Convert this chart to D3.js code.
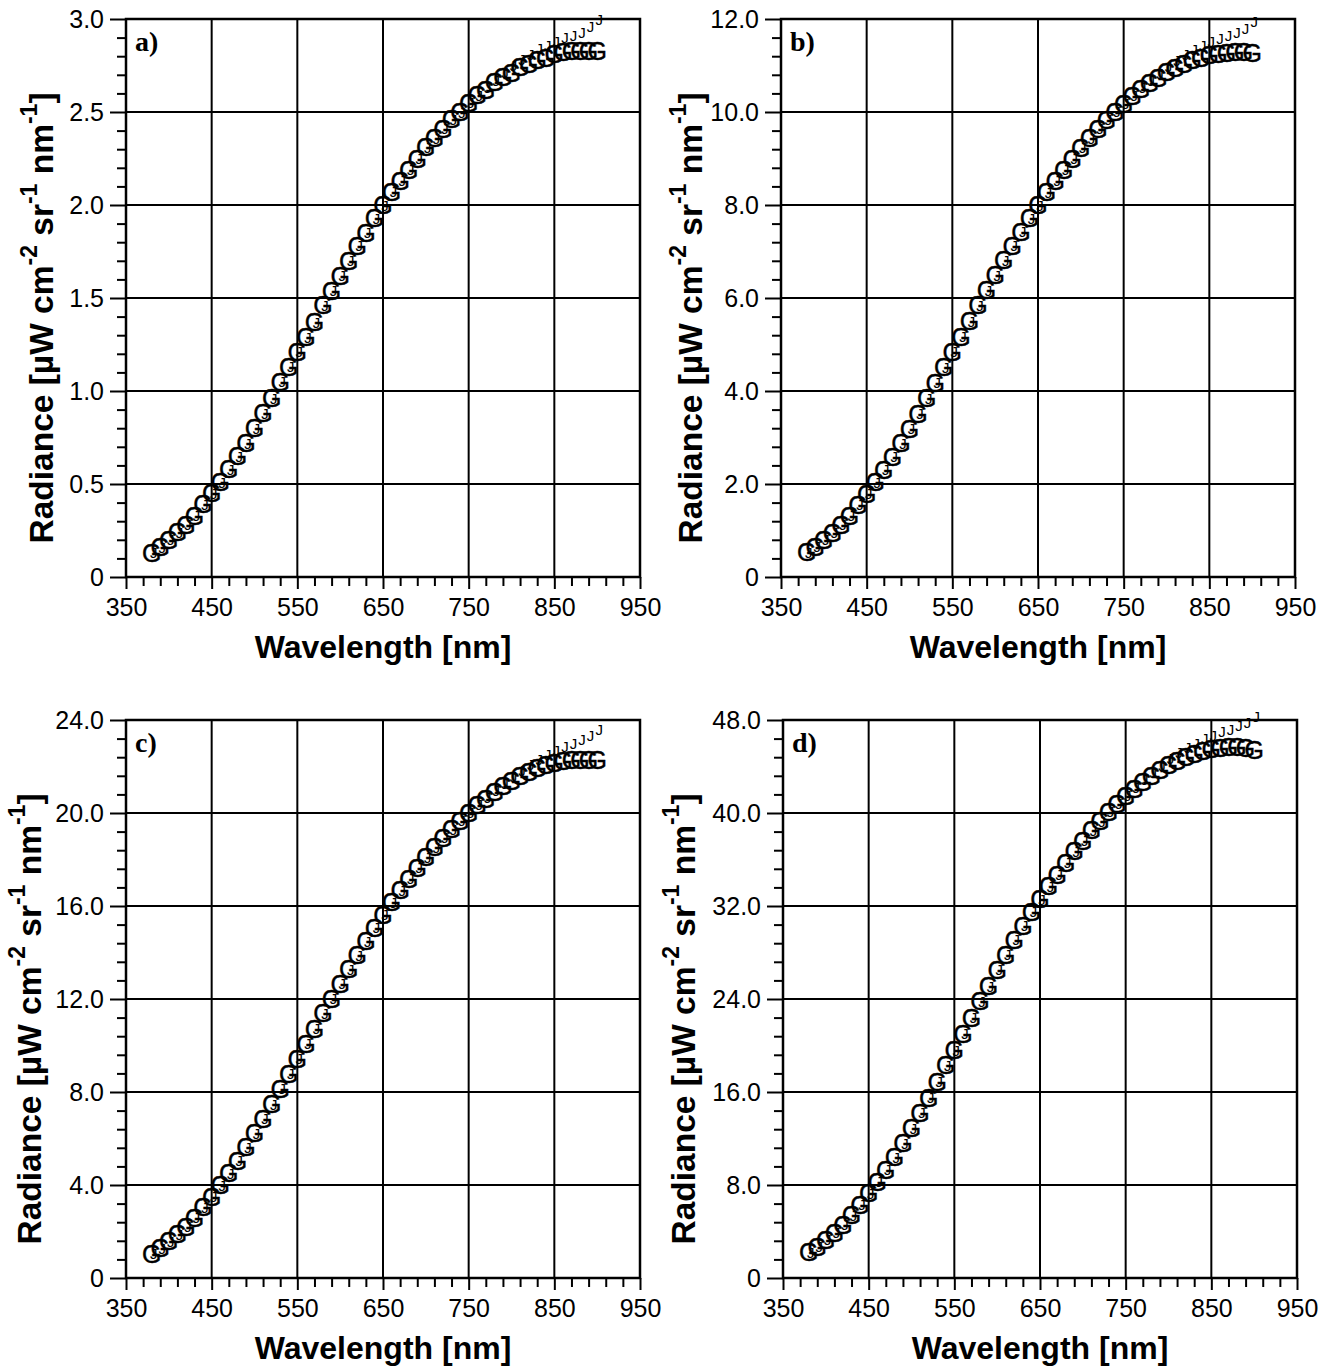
<!DOCTYPE html>
<html><head><meta charset="utf-8">
<script src="https://cdn.jsdelivr.net/npm/d3@7"></script>
<style>body{margin:0;background:#fff}svg{display:block}</style>
</head><body>
<svg id="chart" width="1330" height="1367"></svg>
<script>
// ---------- DATA ----------
const wavelengths = [380,390,400,410,420,430,440,450,460,470,480,490,500,510,520,530,540,550,560,570,580,590,600,610,620,630,640,650,660,670,680,690,700,710,720,730,740,750,760,770,780,790,800,810,820,830,840,850,860,870,880,890,900];
const radianceA = [0.13,0.16,0.20,0.24,0.28,0.33,0.39,0.45,0.51,0.58,0.65,0.72,0.80,0.88,0.96,1.05,1.13,1.21,1.29,1.37,1.46,1.54,1.62,1.70,1.78,1.85,1.93,2.00,2.07,2.13,2.19,2.25,2.31,2.36,2.41,2.46,2.50,2.55,2.59,2.62,2.66,2.69,2.71,2.74,2.76,2.78,2.79,2.81,2.82,2.83,2.83,2.83,2.83];
const radianceB = [0.53,0.65,0.80,0.95,1.12,1.32,1.55,1.79,2.04,2.31,2.59,2.88,3.19,3.51,3.84,4.18,4.51,4.84,5.17,5.50,5.84,6.17,6.49,6.81,7.12,7.42,7.72,8.00,8.27,8.52,8.76,9.00,9.23,9.44,9.64,9.83,10.01,10.18,10.34,10.49,10.62,10.74,10.85,10.95,11.04,11.11,11.17,11.22,11.25,11.27,11.28,11.28,11.27];
const radianceC = [1.05,1.28,1.57,1.88,2.21,2.59,3.04,3.50,3.98,4.50,5.05,5.62,6.22,6.84,7.48,8.13,8.78,9.43,10.08,10.73,11.38,12.02,12.66,13.28,13.89,14.48,15.06,15.62,16.16,16.68,17.17,17.64,18.09,18.52,18.93,19.31,19.67,20.01,20.33,20.62,20.90,21.15,21.38,21.58,21.76,21.92,22.05,22.15,22.23,22.28,22.30,22.30,22.28];
const radianceD = [2.2,2.7,3.3,3.9,4.6,5.4,6.3,7.3,8.3,9.3,10.4,11.6,12.9,14.2,15.5,16.9,18.3,19.6,21.0,22.4,23.8,25.1,26.5,27.8,29.1,30.3,31.5,32.6,33.7,34.7,35.7,36.7,37.6,38.5,39.3,40.1,40.8,41.5,42.1,42.7,43.2,43.7,44.1,44.5,44.8,45.1,45.3,45.5,45.6,45.7,45.7,45.6,45.4];

// second series ("J" markers), diverging upward at the long-wavelength end
const jWavelengths = [380,390,400,410,420,430,440,450,460,470,480,490,500,510,520,530,540,550,560,570,580,590,600,610,620,630,640,650,660,670,680,690,700,710,720,730,740,750,760,770,780,790,800,810,820,830,840,850,860,870,880,890,900];
const jA = [0.13,0.16,0.20,0.24,0.28,0.33,0.39,0.45,0.51,0.58,0.65,0.72,0.80,0.88,0.96,1.05,1.13,1.21,1.29,1.37,1.46,1.54,1.62,1.70,1.78,1.85,1.93,2.00,2.07,2.13,2.19,2.25,2.31,2.36,2.41,2.46,2.50,2.55,2.59,2.63,2.67,2.71,2.75,2.78,2.81,2.84,2.86,2.88,2.90,2.91,2.93,2.96,3.00];
const jB = [0.53,0.65,0.80,0.95,1.12,1.32,1.55,1.79,2.04,2.31,2.59,2.88,3.19,3.51,3.84,4.18,4.51,4.84,5.17,5.50,5.84,6.17,6.49,6.81,7.12,7.42,7.72,8.00,8.27,8.52,8.76,9.00,9.23,9.44,9.64,9.83,10.01,10.18,10.36,10.52,10.68,10.83,10.98,11.11,11.23,11.34,11.43,11.51,11.58,11.64,11.71,11.80,11.94];
const jC = [1.05,1.28,1.57,1.88,2.21,2.59,3.04,3.50,3.98,4.50,5.05,5.62,6.22,6.84,7.48,8.13,8.78,9.43,10.08,10.73,11.38,12.02,12.66,13.28,13.89,14.48,15.06,15.62,16.16,16.68,17.17,17.64,18.09,18.52,18.93,19.31,19.67,20.01,20.35,20.67,20.98,21.27,21.55,21.82,22.07,22.30,22.50,22.68,22.84,22.99,23.14,23.32,23.60];
const jD = [2.2,2.7,3.3,3.9,4.6,5.4,6.3,7.3,8.3,9.3,10.4,11.6,12.9,14.2,15.5,16.9,18.3,19.6,21.0,22.4,23.8,25.1,26.5,27.8,29.1,30.3,31.5,32.6,33.7,34.7,35.7,36.7,37.6,38.5,39.3,40.1,40.8,41.5,42.2,42.9,43.5,44.1,44.7,45.2,45.6,46.0,46.4,46.7,47.0,47.2,47.5,47.8,48.3];

const xTicks = [350,450,550,650,750,850,950];
const xTickLabels = ["350","450","550","650","750","850","950"];
const yTicksA = [0,0.5,1.0,1.5,2.0,2.5,3.0];
const yTickLabelsA = ["0","0.5","1.0","1.5","2.0","2.5","3.0"];
const yTicksB = [0,2,4,6,8,10,12];
const yTickLabelsB = ["0","2.0","4.0","6.0","8.0","10.0","12.0"];
const yTicksC = [0,4,8,12,16,20,24];
const yTickLabelsC = ["0","4.0","8.0","12.0","16.0","20.0","24.0"];
const yTicksD = [0,8,16,24,32,40,48];
const yTickLabelsD = ["0","8.0","16.0","24.0","32.0","40.0","48.0"];
const panelLetters = ["a)","b)","c)","d)"];

// ---------- LAYOUT ----------
const panels = [
  {letter:panelLetters[0], g:radianceA, j:jA, yt:yTicksA, yl:yTickLabelsA, left:126, right:640, top:19, bottom:577, titleX:41},
  {letter:panelLetters[1], g:radianceB, j:jB, yt:yTicksB, yl:yTickLabelsB, left:781, right:1295, top:19, bottom:577, titleX:690},
  {letter:panelLetters[2], g:radianceC, j:jC, yt:yTicksC, yl:yTickLabelsC, left:126, right:640, top:720, bottom:1278, titleX:29},
  {letter:panelLetters[3], g:radianceD, j:jD, yt:yTicksD, yl:yTickLabelsD, left:783, right:1297, top:720, bottom:1278, titleX:683}
];

const svg = d3.select("#chart");
const SANS = "'Liberation Sans', Arial, Helvetica, sans-serif";
const SERIF = "'Liberation Serif', 'Times New Roman', serif";

panels.forEach(p => {
  const x = d3.scaleLinear().domain([xTicks[0], xTicks[xTicks.length-1]]).range([p.left, p.right]);
  const yMax = p.yt[p.yt.length-1];
  const y = d3.scaleLinear().domain([0, yMax]).range([p.bottom, p.top]);
  const g = svg.append("g");

  const xMinor = [];
  for (let i = 0; i < xTicks.length-1; i++) for (let k = 1; k < 5; k++) xMinor.push(xTicks[i] + (xTicks[i+1]-xTicks[i])*k/5);
  const yMinor = [];
  for (let i = 0; i < p.yt.length-1; i++) for (let k = 1; k < 5; k++) yMinor.push(p.yt[i] + (p.yt[i+1]-p.yt[i])*k/5);

  // gridlines
  g.append("g").selectAll("line").data(xTicks.slice(1,-1)).join("line")
    .attr("x1", d => x(d)).attr("x2", d => x(d)).attr("y1", p.top).attr("y2", p.bottom)
    .attr("stroke", "#000").attr("stroke-width", 2);
  g.append("g").selectAll("line").data(p.yt.slice(1,-1)).join("line")
    .attr("x1", p.left).attr("x2", p.right).attr("y1", d => y(d)).attr("y2", d => y(d))
    .attr("stroke", "#000").attr("stroke-width", 2);

  // axes
  const styleAxis = sel => { sel.select(".domain").remove(); sel.selectAll("line").attr("stroke","#000").attr("stroke-width",2); };
  g.append("g").attr("transform", `translate(${p.left},0)`)
    .call(d3.axisLeft(y).tickValues(yMinor).tickSize(9).tickFormat("")).call(styleAxis);
  const yAx = g.append("g").attr("transform", `translate(${p.left},0)`)
    .call(d3.axisLeft(y).tickValues(p.yt).tickSize(16).tickPadding(6).tickFormat((d,i) => p.yl[i])).call(styleAxis);
  yAx.selectAll("text").attr("font-family", SANS).attr("font-size", 25).attr("fill","#000");

  g.append("g").attr("transform", `translate(0,${p.bottom})`)
    .call(d3.axisBottom(x).tickValues(xMinor).tickSize(9).tickFormat("")).call(styleAxis);
  const xAx = g.append("g").attr("transform", `translate(0,${p.bottom})`)
    .call(d3.axisBottom(x).tickValues(xTicks).tickSize(12).tickPadding(9).tickFormat((d,i) => xTickLabels[i])).call(styleAxis);
  xAx.selectAll("text").attr("font-family", SANS).attr("font-size", 25).attr("fill","#000");

  // frame
  g.append("rect").attr("x", p.left).attr("y", p.top).attr("width", p.right-p.left).attr("height", p.bottom-p.top)
    .attr("fill","none").attr("stroke","#000").attr("stroke-width",2.5);

  // panel letter
  g.append("text").attr("x", p.left+9).attr("y", p.top+32).text(p.letter)
    .attr("font-family", SERIF).attr("font-weight","bold").attr("font-size", 28);

  // markers: J series then G series
  g.append("g").selectAll("text").data(jWavelengths.map((w,i) => [w, p.j[i]])).join("text")
    .attr("x", d => x(d[0]) + 2).attr("y", d => y(d[1]))
    .attr("text-anchor","middle").attr("dominant-baseline","central")
    .attr("font-family", SANS).attr("font-size", 15).attr("fill","#000").text("J");
  g.append("g").selectAll("text").data(wavelengths.map((w,i) => [w, p.g[i]])).join("text")
    .attr("x", d => x(d[0])).attr("y", d => y(d[1]))
    .attr("text-anchor","middle").attr("dominant-baseline","central")
    .attr("font-family", SANS).attr("font-size", 25).attr("fill","#000")
    .attr("stroke","#000").attr("stroke-width",0.4).text("G");

  // x title
  g.append("text").attr("x", (p.left+p.right)/2).attr("y", p.bottom+81).attr("text-anchor","middle")
    .attr("font-family", SANS).attr("font-weight","bold").attr("font-size", 32).text("Wavelength [nm]");

  // y title
  const cy = (p.top+p.bottom)/2 + 20;
  const yt = g.append("text").attr("transform", `translate(${p.titleX},${cy}) rotate(-90)`)
    .attr("text-anchor","middle").attr("dominant-baseline","central")
    .attr("font-family", SANS).attr("font-weight","bold").attr("font-size", 33.5);
  yt.append("tspan").text("Radiance [\u00B5W cm");
  yt.append("tspan").attr("dy",-12).attr("font-size",23).text("-2");
  yt.append("tspan").attr("dy",12).text(" sr");
  yt.append("tspan").attr("dy",-12).attr("font-size",23).text("-1");
  yt.append("tspan").attr("dy",12).text(" nm");
  yt.append("tspan").attr("dy",-12).attr("font-size",23).text("-1");
  yt.append("tspan").attr("dy",12).text("]");
});
</script>
</body></html>
